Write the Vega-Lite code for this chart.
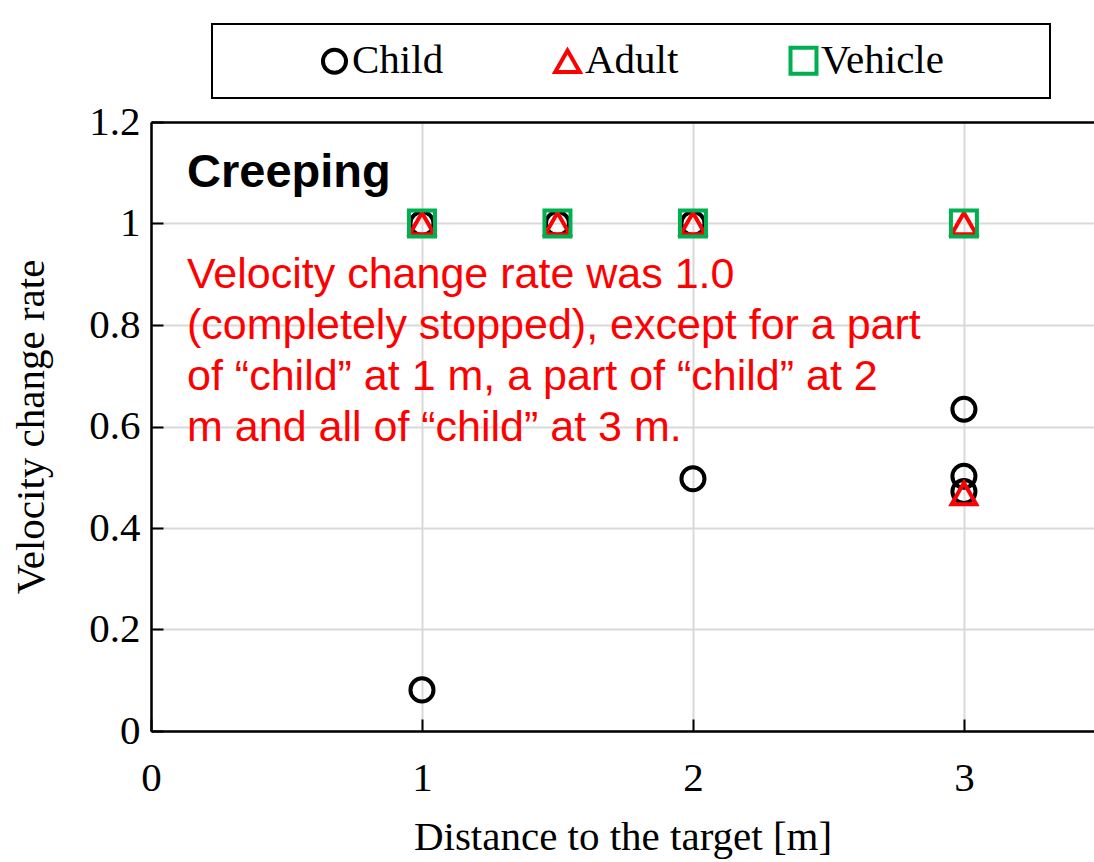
{
  "$schema": "https://vega.github.io/schema/vega-lite/v6.json",
  "width": 943,
  "height": 609,
  "autosize": {"type": "none"},
  "padding": {"left": 151, "top": 122, "right": 0, "bottom": 131},
  "background": "white",
  "config": {"view": {"stroke": null}, "font": "Liberation Serif", "legend": {"strokeWidth": 2}},
  "resolve": {"axis": {"x": "independent"}},
  "layer": [
    {
      "data": {"values": [
        {"series": "Child", "distance": 1, "rate": 1},
        {"series": "Child", "distance": 1, "rate": 0.081},
        {"series": "Child", "distance": 1.5, "rate": 1},
        {"series": "Child", "distance": 2, "rate": 1},
        {"series": "Child", "distance": 2, "rate": 0.497},
        {"series": "Child", "distance": 3, "rate": 0.634},
        {"series": "Child", "distance": 3, "rate": 0.502},
        {"series": "Child", "distance": 3, "rate": 0.472},
        {"series": "Adult", "distance": 1, "rate": 1},
        {"series": "Adult", "distance": 1.5, "rate": 1},
        {"series": "Adult", "distance": 2, "rate": 1},
        {"series": "Adult", "distance": 3, "rate": 1},
        {"series": "Adult", "distance": 3, "rate": 0.468},
        {"series": "Vehicle", "distance": 1, "rate": 1},
        {"series": "Vehicle", "distance": 1.5, "rate": 1},
        {"series": "Vehicle", "distance": 2, "rate": 1},
        {"series": "Vehicle", "distance": 3, "rate": 1}
      ]},
      "mark": {"type": "point", "filled": false, "strokeWidth": 4, "opacity": 1},
      "encoding": {
        "x": {
          "field": "distance", "type": "quantitative",
          "scale": {"domain": [0, 3.48], "nice": false, "zero": false},
          "axis": {
            "values": [0, 1, 2, 3], "format": "d",
            "title": "Distance to the target [m]",
            "titleFont": "Liberation Serif", "titleFontSize": 41, "titleFontWeight": "normal", "titleColor": "black",
            "titlePadding": 19,
            "labelFont": "Liberation Serif", "labelFontSize": 41, "labelColor": "black", "labelPadding": 39, "labelFlush": false,
            "tickSize": -12, "tickColor": "black", "tickWidth": 2,
            "domainColor": "black", "domainWidth": 2.5,
            "gridColor": "#d9d9d9", "gridWidth": 2
          }
        },
        "y": {
          "field": "rate", "type": "quantitative",
          "scale": {"domain": [0, 1.2], "nice": false},
          "axis": {
            "values": [0, 0.2, 0.4, 0.6, 0.8, 1, 1.2], "format": "~g",
            "title": "Velocity change rate",
            "titleFont": "Liberation Serif", "titleFontSize": 41, "titleFontWeight": "normal", "titleColor": "black",
            "titlePadding": 36,
            "labelFont": "Liberation Serif", "labelFontSize": 41, "labelColor": "black", "labelPadding": 23, "labelFlush": false,
            "tickSize": -12, "tickColor": "black", "tickWidth": 2,
            "domainColor": "black", "domainWidth": 2.5,
            "gridColor": "#d9d9d9", "gridWidth": 2
          }
        },
        "color": {
          "field": "series", "type": "nominal",
          "scale": {"domain": ["Child", "Adult", "Vehicle"], "range": ["#000000", "#FF0000", "#00B050"]},
          "legend": {
            "orient": "none", "legendX": 61, "legendY": -98, "direction": "horizontal",
            "title": " ", "titleOrient": "left", "titleFontSize": 1, "titlePadding": 86,
            "padding": 16, "strokeColor": "black",
            "labelFont": "Liberation Serif", "labelFontSize": 41, "labelColor": "black", "labelOffset": -3, "labelLimit": 500,
            "symbolSize": 400, "symbolStrokeWidth": 4, "columnPadding": 103,
            "labelExpr": "datum.label == 'Vehicle' ? 'Vehicle\u2800\u2800\u2800' : datum.label"
          }
        },
        "shape": {
          "field": "series", "type": "nominal",
          "scale": {"domain": ["Child", "Adult", "Vehicle"], "range": ["circle", "triangle-up", "square"]}
        },
        "size": {
          "field": "series", "type": "nominal",
          "scale": {"domain": ["Child", "Adult", "Vehicle"], "range": [531, 676, 676]},
          "legend": null
        }
      }
    },
    {
      "data": {"values": [
        {"x": 0.133, "y": 1.072, "label": "Creeping"}
      ]},
      "mark": {"type": "text", "align": "left", "baseline": "alphabetic", "font": "Liberation Sans", "fontWeight": "bold", "fontSize": 47, "color": "black"},
      "encoding": {
        "x": {"field": "x", "type": "quantitative", "axis": {"orient": "top", "labels": false, "ticks": false, "grid": false, "title": null, "domainColor": "black", "domainWidth": 2.5}},
        "y": {"field": "y", "type": "quantitative"},
        "text": {"field": "label"}
      }
    },
    {
      "data": {"values": [
        {"x": 0.133, "y": 0.873, "label": "Velocity change rate was 1.0"},
        {"x": 0.133, "y": 0.772, "label": "(completely stopped), except for a part"},
        {"x": 0.133, "y": 0.672, "label": "of “child” at 1 m, a part of “child” at 2"},
        {"x": 0.133, "y": 0.571, "label": "m and all of “child” at 3 m."}
      ]},
      "mark": {"type": "text", "align": "left", "baseline": "alphabetic", "font": "Liberation Sans", "fontSize": 43, "color": "#FF0000"},
      "encoding": {
        "x": {"field": "x", "type": "quantitative", "axis": null},
        "y": {"field": "y", "type": "quantitative"},
        "text": {"field": "label"}
      }
    }
  ]
}
